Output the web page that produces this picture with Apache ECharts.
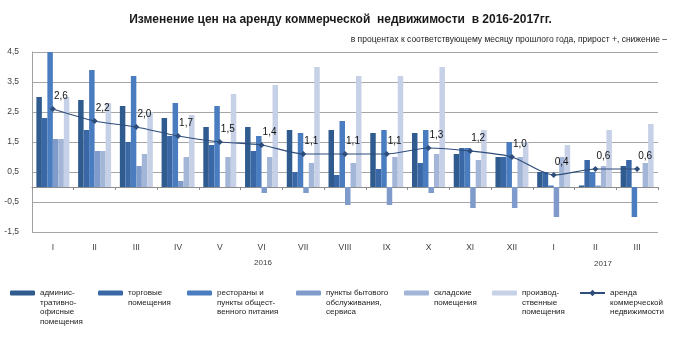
<!DOCTYPE html>
<html>
<head>
<meta charset="utf-8">
<script src="https://cdn.jsdelivr.net/npm/echarts@6/dist/echarts.min.js"></script>
<style>
html,body{margin:0;padding:0;background:#fff;}
#c{width:681px;height:339px;}
</style>
</head>
<body>
<div id="c"></div>
<script>
const months = ['I','II','III','IV','V','VI','VII','VIII','IX','X','XI','XII','I','II','III'];
const yearLabels = ['2016','2017'];
const seriesNames = [
  'админис-\nтративно-\nофисные\nпомещения',
  'торговые\nпомещения',
  'рестораны и\nпункты общест-\nвенного питания',
  'пункты бытового\nобслуживания,\nсервиса',
  'складские\nпомещения',
  'производ-\nственные\nпомещения',
  'аренда\nкоммерческой\nнедвижимости'
];
const officeVals     = [3.0,2.9,2.7,2.3,2.0,2.0,1.9,1.9,1.8,1.8,1.1,1.0,0.5,0.05,0.7];
const retailVals     = [2.3,1.9,1.5,1.7,1.4,1.2,0.5,0.4,0.6,0.8,1.3,1.0,0.5,0.9,0.9];
const restaurantVals = [4.5,3.9,3.7,2.8,2.7,1.7,1.8,2.2,1.9,1.9,1.3,1.5,0.05,0.5,-1.0];
const serviceVals    = [1.6,1.2,0.7,0.2,0,-0.2,-0.2,-0.6,-0.6,-0.2,-0.7,-0.7,-1.0,0.05,0];
const warehouseVals  = [1.6,1.2,1.1,1.0,1.0,1.0,0.8,0.8,1.0,1.1,0.9,1.0,1.0,0.7,0.8];
const industrialVals = [3.0,2.8,2.5,2.4,3.1,3.4,4.0,3.7,3.7,4.0,1.9,1.5,1.4,1.9,2.1];
const rentVals       = [2.6,2.2,2.0,1.7,1.5,1.4,1.1,1.1,1.1,1.3,1.2,1.0,0.4,0.6,0.6];

const barColors = ['#2f5b8f','#3a68a6','#4a7cc0','#7f9bcb','#a4b6d7','#c6d0e6'];
const lineColor = '#2e4d7b';
const FONT = 'Liberation Sans';

const chart = echarts.init(document.getElementById('c'), null, {renderer:'canvas'});
const barData = [officeVals, retailVals, restaurantVals, serviceVals, warehouseVals, industrialVals];

const series = barData.map((d,i)=>({
  name: seriesNames[i], type:'bar', data:d, xAxisIndex:0,
  barGap:'0%', barCategoryGap:'21%',
  itemStyle:{color:barColors[i]}
}));
series.push({
  name: seriesNames[6], type:'line', data: rentVals, xAxisIndex:0,
  smooth:0.25, symbol:'diamond', symbolSize:6, z:5,
  lineStyle:{color:lineColor,width:1.2}, itemStyle:{color:lineColor},
  label:{show:true, position:'top', distance:5, offset:[8,0], fontFamily:FONT, fontSize:10, color:'#111',
    formatter:p=>p.value.toFixed(1).replace('.',',')}
});

const lh = 9.5, iconY = 293;
const legendLefts = [10,98,187,296,404,492,579];
const legends = seriesNames.map((n,i)=>{
  const lines = n.split('\n').length;
  const isLine = i===6;
  return {
    data:[n], left:legendLefts[i], top: iconY - (2*lines-1)*lh/2, padding:0,
    itemWidth:25, itemHeight:isLine?8:5, itemGap:4, selectedMode:false,
    formatter: name => '\n'.repeat(lines-1) + name,
    textStyle:{fontFamily:FONT, fontSize:8, color:'#222', lineHeight:lh}
  };
});

chart.setOption({
  animation:false,
  textStyle:{fontFamily:FONT},
  title:[
    {text:'Изменение цен на аренду коммерческой  недвижимости  в 2016-2017гг.', left:'center', top:9,
     textStyle:{fontFamily:FONT, fontSize:12, fontWeight:'bold', color:'#1a1a1a'}},
    {text:'в процентах к соответствующему месяцу прошлого года, прирост +, снижение –', right:9, top:30,
     textStyle:{fontFamily:FONT, fontSize:8.5, fontWeight:'normal', color:'#222'}}
  ],
  legend: legends,
  grid:{left:32,right:23,top:52,bottom:107},
  xAxis:[
    {type:'category', data:months, position:'bottom',
     axisLine:{onZero:true, lineStyle:{color:'#8c8c8c',width:1}},
     axisTick:{show:true, length:3, lineStyle:{color:'#8c8c8c'}},
     axisLabel:{show:false}},
    {type:'category', data:months, position:'bottom',
     axisLine:{show:false, onZero:false}, axisTick:{show:false},
     axisLabel:{margin:11, fontFamily:FONT, fontSize:8.5, color:'#404040'}}
  ],
  yAxis:{type:'value', min:-1.5, max:4.5, interval:1,
    axisLine:{show:true, lineStyle:{color:'#a0a0a0'}}, axisTick:{show:false},
    splitLine:{lineStyle:{color:'#a6a6a6',width:1}},
    axisLabel:{margin:13, fontFamily:FONT, fontSize:8.5, color:'#404040',
      formatter:v=>String(v).replace('.',',')}},
  graphic:[
    {type:'text', x:263, y:263, style:{text:yearLabels[0], fontFamily:FONT, fontSize:8, fill:'#404040', align:'center', verticalAlign:'middle'}},
    {type:'text', x:603, y:264, style:{text:yearLabels[1], fontFamily:FONT, fontSize:8, fill:'#404040', align:'center', verticalAlign:'middle'}}
  ],
  series: series
});
</script>
</body>
</html>
